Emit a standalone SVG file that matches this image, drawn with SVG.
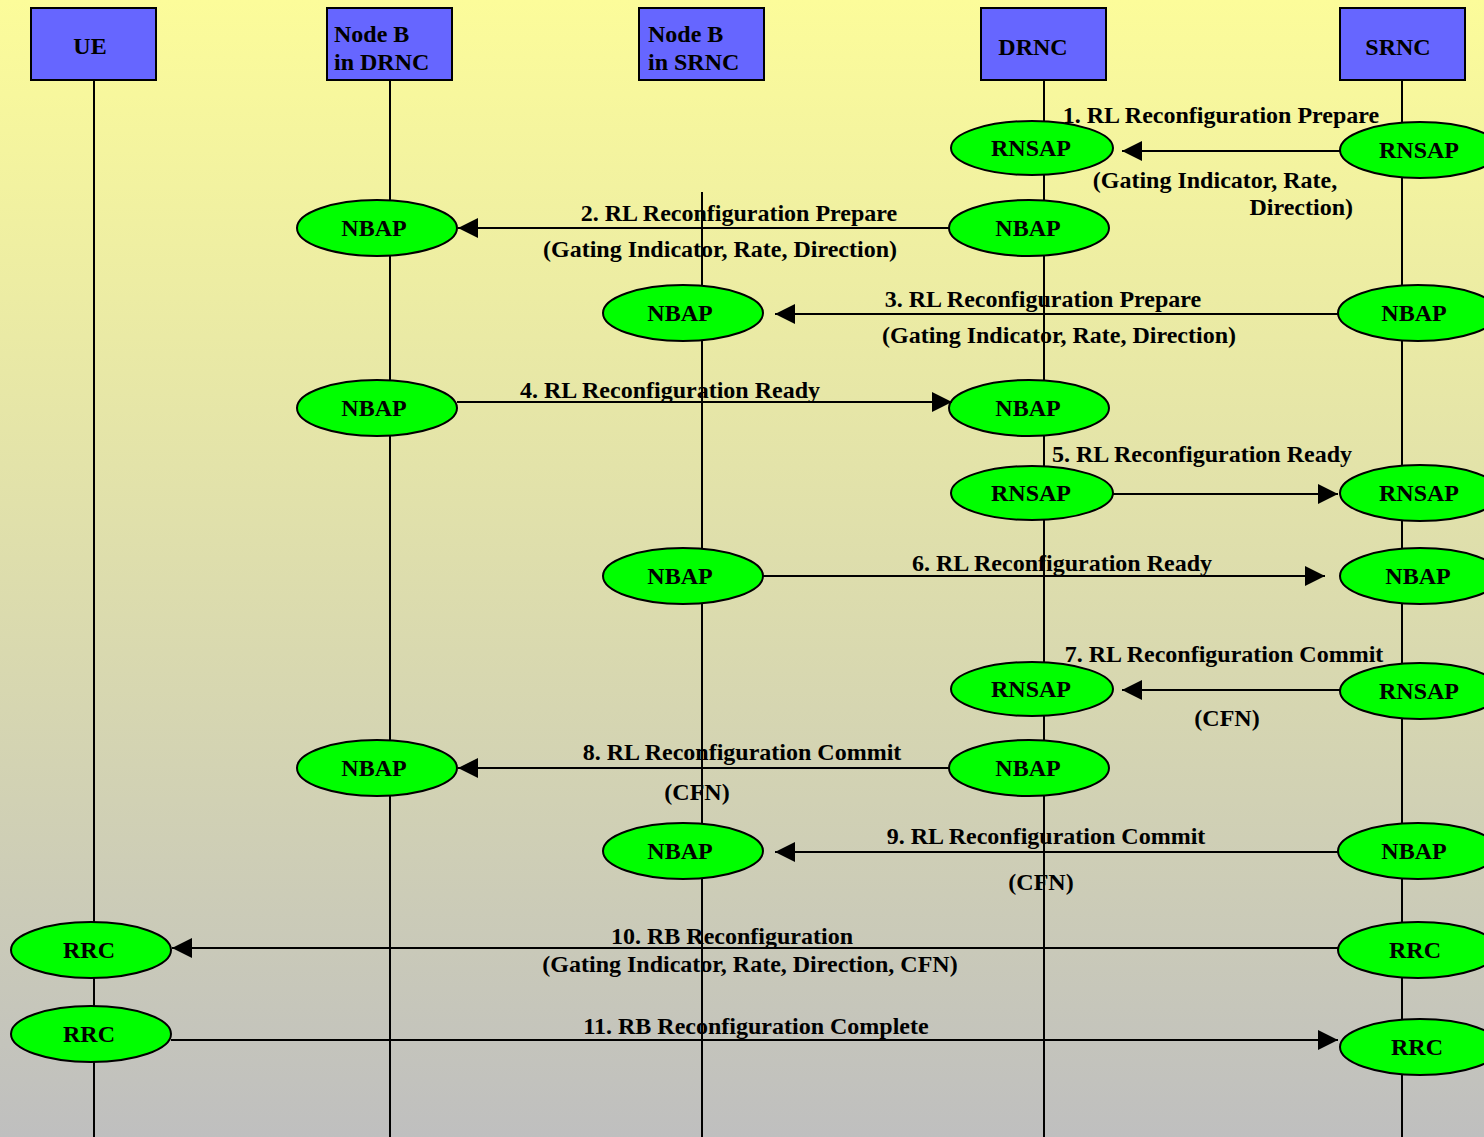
<svg xmlns="http://www.w3.org/2000/svg" width="1484" height="1137" viewBox="0 0 1484 1137">
<defs>
<linearGradient id="bg" x1="0" y1="0" x2="0" y2="1">
<stop offset="0" stop-color="#FCFC9A"/>
<stop offset="1" stop-color="#BFBFBF"/>
</linearGradient>
<marker id="ah" viewBox="0 0 20 20" refX="20" refY="10" markerWidth="20" markerHeight="20" markerUnits="userSpaceOnUse" orient="auto">
<path d="M0,0 L20,10 L0,20 Z" fill="#000"/>
</marker>
<style>
text{font-family:"Liberation Serif","Times New Roman",serif;font-weight:bold;font-size:24px;fill:#000}
.box{fill:#6666FF;stroke:#000;stroke-width:2}
.ell{fill:#00FF00;stroke:#000;stroke-width:2}
.life{stroke:#000;stroke-width:2}
.msg{stroke:#000;stroke-width:2;marker-end:url(#ah)}
.m{text-anchor:middle}
</style>
</defs>
<rect x="0" y="0" width="1484" height="1137" fill="url(#bg)"/>
<g id="lifelines">
<line class="life" x1="94" y1="80" x2="94" y2="1137"/>
<line class="life" x1="390" y1="80" x2="390" y2="1137"/>
<line class="life" x1="702" y1="192" x2="702" y2="1137"/>
<line class="life" x1="1044" y1="80" x2="1044" y2="1137"/>
<line class="life" x1="1402" y1="80" x2="1402" y2="1137"/>
</g>
<g id="header-UE"><rect class="box" x="31" y="8" width="125" height="72"/><text x="90" y="54" class="m">UE</text></g>
<g id="header-NodeB-DRNC"><rect class="box" x="327" y="8" width="125" height="72"/><text x="334" y="42">Node B</text><text x="334" y="70">in DRNC</text></g>
<g id="header-NodeB-SRNC"><rect class="box" x="639" y="8" width="125" height="72"/><text x="648" y="42">Node B</text><text x="648" y="70">in SRNC</text></g>
<g id="header-DRNC"><rect class="box" x="981" y="8" width="125" height="72"/><text x="1033" y="55" class="m">DRNC</text></g>
<g id="header-SRNC"><rect class="box" x="1340" y="8" width="125" height="72"/><text x="1398" y="55" class="m">SRNC</text></g>

<g id="n1a"><ellipse class="ell" cx="1032" cy="148" rx="81" ry="27"/><text x="1031" y="156" class="m">RNSAP</text></g>
<g id="n1b"><ellipse class="ell" cx="1420" cy="150" rx="80" ry="28"/><text x="1419" y="158" class="m">RNSAP</text></g>
<g id="n2a"><ellipse class="ell" cx="377" cy="228" rx="80" ry="28"/><text x="374" y="236" class="m">NBAP</text></g>
<g id="n2b"><ellipse class="ell" cx="1029" cy="228" rx="80" ry="28"/><text x="1028" y="236" class="m">NBAP</text></g>
<g id="n3a"><ellipse class="ell" cx="683" cy="313" rx="80" ry="28"/><text x="680" y="321" class="m">NBAP</text></g>
<g id="n3b"><ellipse class="ell" cx="1418" cy="313" rx="80" ry="28"/><text x="1414" y="321" class="m">NBAP</text></g>
<g id="n4a"><ellipse class="ell" cx="377" cy="408" rx="80" ry="28"/><text x="374" y="416" class="m">NBAP</text></g>
<g id="n4b"><ellipse class="ell" cx="1029" cy="408" rx="80" ry="28"/><text x="1028" y="416" class="m">NBAP</text></g>
<g id="n5a"><ellipse class="ell" cx="1032" cy="493" rx="81" ry="27"/><text x="1031" y="501" class="m">RNSAP</text></g>
<g id="n5b"><ellipse class="ell" cx="1420" cy="493" rx="80" ry="28"/><text x="1419" y="501" class="m">RNSAP</text></g>
<g id="n6a"><ellipse class="ell" cx="683" cy="576" rx="80" ry="28"/><text x="680" y="584" class="m">NBAP</text></g>
<g id="n6b"><ellipse class="ell" cx="1420" cy="576" rx="80" ry="28"/><text x="1418" y="584" class="m">NBAP</text></g>
<g id="n7a"><ellipse class="ell" cx="1032" cy="689" rx="81" ry="27"/><text x="1031" y="697" class="m">RNSAP</text></g>
<g id="n7b"><ellipse class="ell" cx="1420" cy="691" rx="80" ry="28"/><text x="1419" y="699" class="m">RNSAP</text></g>
<g id="n8a"><ellipse class="ell" cx="377" cy="768" rx="80" ry="28"/><text x="374" y="776" class="m">NBAP</text></g>
<g id="n8b"><ellipse class="ell" cx="1029" cy="768" rx="80" ry="28"/><text x="1028" y="776" class="m">NBAP</text></g>
<g id="n9a"><ellipse class="ell" cx="683" cy="851" rx="80" ry="28"/><text x="680" y="859" class="m">NBAP</text></g>
<g id="n9b"><ellipse class="ell" cx="1418" cy="851" rx="80" ry="28"/><text x="1414" y="859" class="m">NBAP</text></g>
<g id="n10a"><ellipse class="ell" cx="91" cy="950" rx="80" ry="28"/><text x="89" y="958" class="m">RRC</text></g>
<g id="n10b"><ellipse class="ell" cx="1418" cy="950" rx="80" ry="28"/><text x="1415" y="958" class="m">RRC</text></g>
<g id="n11a"><ellipse class="ell" cx="91" cy="1034" rx="80" ry="28"/><text x="89" y="1042" class="m">RRC</text></g>
<g id="n11b"><ellipse class="ell" cx="1420" cy="1047" rx="80" ry="28"/><text x="1417" y="1055" class="m">RRC</text></g>

<g id="connectors">
<line class="msg" x1="1340" y1="151" x2="1122" y2="151"/>
<line class="msg" x1="949" y1="228" x2="458" y2="228"/>
<line class="msg" x1="1338" y1="314" x2="775" y2="314"/>
<line class="msg" x1="457" y1="402" x2="952" y2="402"/>
<line class="msg" x1="1113" y1="494" x2="1338" y2="494"/>
<line class="msg" x1="763" y1="576" x2="1325" y2="576"/>
<line class="msg" x1="1340" y1="690" x2="1122" y2="690"/>
<line class="msg" x1="949" y1="768" x2="458" y2="768"/>
<line class="msg" x1="1338" y1="852" x2="775" y2="852"/>
<line class="msg" x1="1338" y1="948" x2="172" y2="948"/>
<line class="msg" x1="171" y1="1040" x2="1338" y2="1040"/>
</g>
<g id="labels">
<text x="1221" y="123" class="m">1. RL Reconfiguration Prepare</text>
<text x="1215" y="188" class="m">(Gating Indicator, Rate,</text>
<text x="1353" y="215" text-anchor="end">Direction)</text>
<text x="739" y="221" class="m">2. RL Reconfiguration Prepare</text>
<text x="720" y="257" class="m">(Gating Indicator, Rate, Direction)</text>
<text x="1043" y="307" class="m">3. RL Reconfiguration Prepare</text>
<text x="1059" y="343" class="m">(Gating Indicator, Rate, Direction)</text>
<text x="670" y="398" class="m">4. RL Reconfiguration Ready</text>
<text x="1202" y="462" class="m">5. RL Reconfiguration Ready</text>
<text x="1062" y="571" class="m">6. RL Reconfiguration Ready</text>
<text x="1224" y="662" class="m">7. RL Reconfiguration Commit</text>
<text x="1227" y="726" class="m">(CFN)</text>
<text x="742" y="760" class="m">8. RL Reconfiguration Commit</text>
<text x="697" y="800" class="m">(CFN)</text>
<text x="1046" y="844" class="m">9. RL Reconfiguration Commit</text>
<text x="1041" y="890" class="m">(CFN)</text>
<text x="732" y="944" class="m">10. RB Reconfiguration</text>
<text x="750" y="972" class="m">(Gating Indicator, Rate, Direction, CFN)</text>
<text x="756" y="1034" class="m">11. RB Reconfiguration Complete</text>
</g>
</svg>
